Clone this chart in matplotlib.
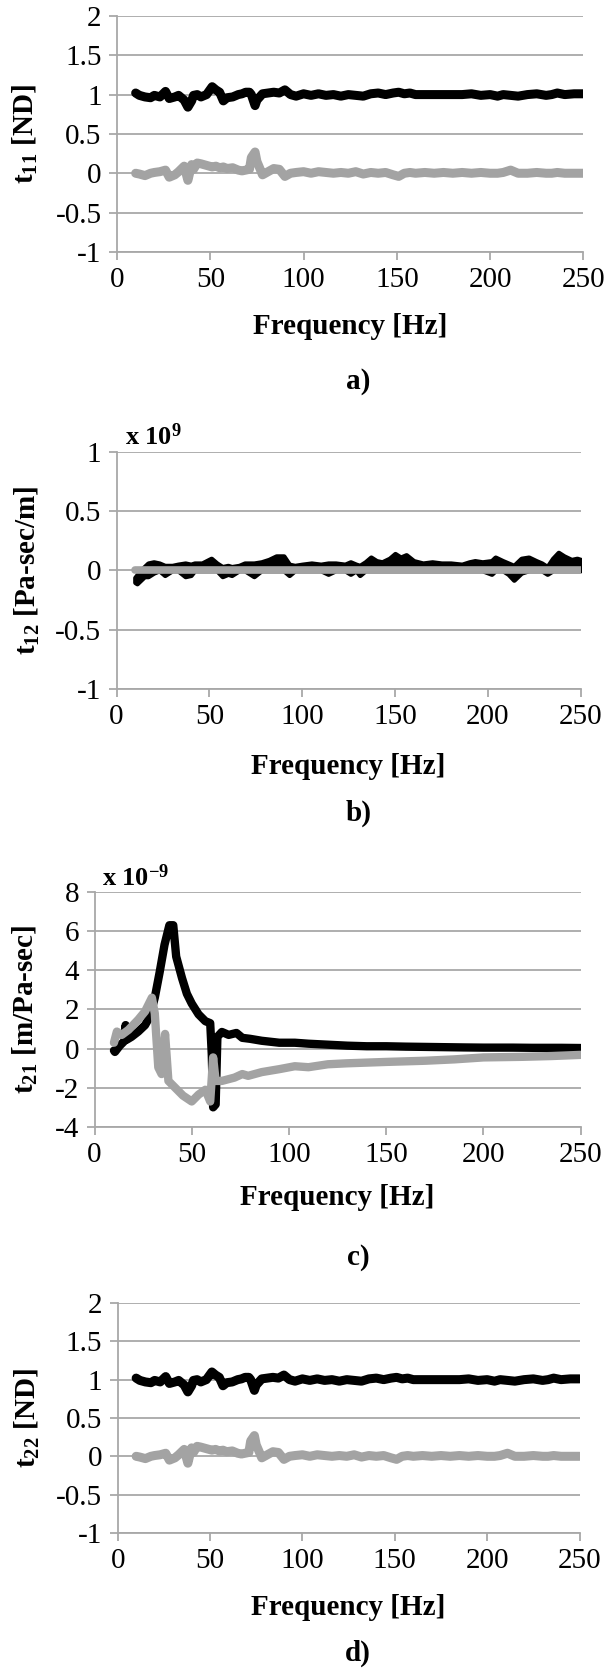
import matplotlib
matplotlib.use('Agg')
import matplotlib.pyplot as plt

plt.rcParams['font.family'] = ['Liberation Serif', 'DejaVu Serif']
plt.rcParams['mathtext.fontset'] = 'custom'
plt.rcParams['mathtext.rm'] = 'Liberation Serif'
plt.rcParams['mathtext.bf'] = 'Liberation Serif:bold'
plt.rcParams['mathtext.it'] = 'Liberation Serif:italic'
plt.rcParams['mathtext.default'] = 'bf'
plt.rcParams['axes.unicode_minus'] = False

# --- a) / d) t11, t22 : real (black) and imag (gray) ---
freq_a = [10, 12, 15, 18, 20, 23, 26, 28, 31, 33,
          36, 38, 40, 41, 43, 45, 48, 51, 53, 55,
          57, 59, 62, 65, 67, 69, 71, 72, 74, 75,
          78, 81, 84, 87, 90, 93, 96, 100, 104, 108,
          112, 116, 120, 124, 128, 132, 136, 140, 144, 148,
          151, 154, 157, 160, 165, 170, 175, 180, 185, 190,
          195, 200, 204, 207, 211, 215, 220, 225, 230, 233,
          236, 240, 245, 250]
t11_re = [1.02, 0.99, 0.97, 0.96, 0.99, 0.97, 1.04, 0.95, 0.97, 0.99,
          0.93, 0.84, 0.92, 0.99, 1.00, 0.97, 1.00, 1.10, 1.06, 1.03,
          0.92, 0.96, 0.97, 1.00, 1.01, 1.03, 1.03, 1.00, 0.86, 0.93,
          1.01, 1.02, 1.03, 1.02, 1.06, 1.00, 0.98, 1.01, 0.99, 1.01,
          0.99, 1.00, 0.98, 1.00, 0.99, 0.98, 1.01, 1.02, 1.00, 1.02,
          1.03, 1.01, 1.02, 1.00, 1.00, 1.00, 1.00, 1.00, 1.00, 1.01,
          0.99, 1.00, 0.98, 1.00, 0.99, 0.98, 1.00, 1.01, 0.99, 1.00,
          1.02, 1.00, 1.01, 1.01]
t11_im = [0.00, -0.01, -0.03, 0.00, 0.01, 0.02, 0.04, -0.05, -0.02, 0.02,
          0.09, -0.09, 0.11, 0.05, 0.13, 0.12, 0.10, 0.08, 0.09, 0.07,
          0.08, 0.06, 0.07, 0.04, 0.03, 0.04, 0.05, 0.20, 0.27, 0.15,
          -0.02, 0.02, 0.06, 0.05, -0.04, 0.00, 0.01, 0.02, 0.00, 0.02,
          0.01, 0.00, 0.01, 0.00, 0.02, -0.01, 0.01, 0.00, 0.01, -0.02,
          -0.04, 0.00, 0.01, 0.00, 0.01, 0.00, 0.01, 0.00, 0.01, 0.00,
          0.01, 0.00, 0.00, 0.01, 0.04, 0.00, 0.00, 0.01, 0.00, 0.00,
          0.01, 0.00, 0.00, 0.00]
t22_re = t11_re
t22_im = t11_im

# --- b) t12 (x 1e9): black band (upper / lower edge), gray at zero ---
freq_b = [10, 11, 13, 15, 17, 20, 23, 26, 30, 33,
          37, 40, 42, 46, 51, 54, 57, 60, 62, 66,
          69, 74, 78, 82, 86, 90, 93, 96, 100, 105,
          110, 114, 118, 123, 126, 129, 131, 134, 137, 140,
          143, 147, 150, 153, 156, 160, 165, 170, 175, 180,
          186, 190, 193, 197, 202, 204, 208, 211, 214, 218,
          222, 226, 229, 232, 235, 238, 241, 245, 248, 250]
t12_hi = [-0.06, -0.04, 0.0, 0.03, 0.06, 0.07, 0.06, 0.04, 0.04, 0.05,
          0.06, 0.05, 0.06, 0.06, 0.10, 0.06, 0.03, 0.04, 0.03, 0.04,
          0.06, 0.06, 0.07, 0.09, 0.12, 0.12, 0.05, 0.04, 0.05, 0.06,
          0.05, 0.06, 0.06, 0.05, 0.07, 0.05, 0.04, 0.07, 0.11, 0.08,
          0.07, 0.10, 0.14, 0.11, 0.13, 0.08, 0.06, 0.07, 0.06, 0.06,
          0.05, 0.07, 0.08, 0.07, 0.08, 0.11, 0.08, 0.06, 0.04, 0.10,
          0.11, 0.08, 0.06, 0.03, 0.10, 0.15, 0.12, 0.09, 0.10, 0.09]
t12_lo = [-0.10, -0.11, -0.08, -0.05, -0.05, -0.02, 0.0, -0.04, 0.0, 0.0,
          -0.05, -0.04, 0.0, 0.0, 0.0, 0.0, -0.05, -0.03, -0.04, 0.0,
          0.0, -0.05, 0.0, 0.0, 0.0, 0.0, -0.04, 0.0, 0.0, 0.0,
          0.0, -0.03, 0.0, 0.0, -0.03, 0.0, -0.04, 0.0, 0.0, 0.0,
          0.0, 0.0, 0.0, 0.0, 0.0, 0.0, 0.0, 0.0, 0.0, 0.0,
          0.0, 0.0, 0.0, 0.0, -0.03, 0.0, 0.0, -0.03, -0.08, -0.02,
          0.0, 0.0, 0.0, -0.03, 0.0, 0.0, 0.0, 0.0, 0.0, 0.0]
freq_b_im = [10, 250]
t12_im = [0.0, 0.0]

# --- c) t21 (x 1e-9) ---
freq_c_re = [10, 10.5, 13, 15.5, 16, 16.5, 19, 22.5, 26, 28.5,
             31, 33.5, 36, 38.5, 40.5, 42, 45, 47.5, 50, 53.5,
             57, 59.5, 60.3, 61, 62.3, 63.2, 65.5, 69, 73, 76,
             80, 86, 95, 103, 110, 120, 130, 140, 150, 160,
             175, 190, 200, 215, 225, 240, 250]
t21_re = [-0.1, -0.17, 0.15, 0.4, 1.2, 0.45, 0.6, 0.87, 1.2, 1.65,
          2.6, 3.9, 5.3, 6.3, 6.3, 4.7, 3.6, 2.8, 2.3, 1.75,
          1.4, 1.3, -0.3, -3.0, -2.85, 0.6, 0.85, 0.7, 0.8, 0.55,
          0.5, 0.4, 0.3, 0.3, 0.25, 0.2, 0.15, 0.12, 0.12, 0.1,
          0.08, 0.06, 0.05, 0.05, 0.04, 0.04, 0.03]
freq_c_im = [10, 11.5, 14, 17.5, 22.5, 26, 29.5, 31, 32.8, 34.5,
             36.3, 38, 41.5, 45.5, 50, 53.5, 57, 59.5, 61, 62.3,
             65.5, 72, 76, 79, 86, 95, 103, 110, 120, 130,
             150, 170, 185, 200, 220, 235, 250]
t21_im = [0.3, 0.87, 0.7, 0.96, 1.48, 1.9, 2.6, 1.8, -0.96, -1.3,
          0.75, -1.65, -2.0, -2.4, -2.7, -2.35, -2.1, -2.7, -0.45, -1.65,
          -1.65, -1.48, -1.3, -1.39, -1.2, -1.05, -0.9, -0.95, -0.8, -0.75,
          -0.68, -0.62, -0.55, -0.45, -0.42, -0.38, -0.32]

xticks = [0, 50, 100, 150, 200, 250]
nd_ticks = [-1, -0.5, 0, 0.5, 1, 1.5, 2]
nd_labels = ['-1', '-0.5', '0', '0.5', '1', '1.5', '2']
b_ticks = [-1, -0.5, 0, 0.5, 1]
b_labels = ['-1', '-0.5', '0', '0.5', '1']
c_ticks = [-4, -2, 0, 2, 4, 6, 8]
c_labels = ['-4', '-2', '0', '2', '4', '6', '8']

BLACK = '#000000'
GRAY = '#a3a3a3'
GRID = '#a8a8a8'
FS = 21
LW = 6.5


def style(ax, ticks, labels, ylabel, ylab_x, xlab_y):
    ax.set_xlim(0, 250)
    ax.set_ylim(ticks[0], ticks[-1])
    ax.set_xticks(xticks)
    ax.set_yticks(ticks)
    ax.set_yticklabels(labels)
    ax.grid(axis='y', color=GRID, lw=1.3)
    ax.set_axisbelow(True)
    for s in ['top', 'right']:
        ax.spines[s].set_visible(False)
    for s in ['left', 'bottom']:
        ax.spines[s].set_color(GRID)
        ax.spines[s].set_linewidth(1.3)
    ax.tick_params(direction='out', length=6, width=1.3, color=GRID,
                   labelsize=FS, pad=5)
    ax.set_xlabel('Frequency [Hz]', fontsize=FS, fontweight='bold')
    ax.xaxis.set_label_coords(0.5, xlab_y)
    ax.xaxis.label.set_va('center')
    ax.set_ylabel(ylabel, fontsize=FS, fontweight='bold')
    ax.yaxis.set_label_coords(ylab_x, 0.5)
    ax.yaxis.label.set_va('center')


fig = plt.figure(figsize=(6.05, 16.75), dpi=100)

ax = fig.add_axes([0.1934, 0.8496, 0.7709, 0.1409])
ax.plot(freq_a, t11_re, color=BLACK, lw=LW, solid_capstyle='round', solid_joinstyle='round')
ax.plot(freq_a, t11_im, color=GRAY, lw=LW, solid_capstyle='round', solid_joinstyle='round')
style(ax, nd_ticks, nd_labels, 't$_{11}$ [ND]', -0.197, -0.318)

ax = fig.add_axes([0.1926, 0.5887, 0.7672, 0.1415])
ax.fill_between(freq_b, t12_lo, t12_hi, color=BLACK, lw=3.5, edgecolor=BLACK)
ax.plot(freq_b_im, t12_im, color=GRAY, lw=5.5, solid_capstyle='round')
style(ax, b_ticks, b_labels, 't$_{12}$ [Pa-sec/m]', -0.193, -0.329)

ax = fig.add_axes([0.1562, 0.3272, 0.8036, 0.1403])
ax.plot(freq_c_re, t21_re, color=BLACK, lw=6, solid_capstyle='round', solid_joinstyle='round')
ax.plot(freq_c_im, t21_im, color=GRAY, lw=6, solid_capstyle='round', solid_joinstyle='round')
style(ax, c_ticks, c_labels, 't$_{21}$ [m/Pa-sec]', -0.143, -0.302)

ax = fig.add_axes([0.1945, 0.0848, 0.7634, 0.1373])
ax.plot(freq_a, t22_re, color=BLACK, lw=LW, solid_capstyle='round', solid_joinstyle='round')
ax.plot(freq_a, t22_im, color=GRAY, lw=LW, solid_capstyle='round', solid_joinstyle='round')
style(ax, nd_ticks, nd_labels, 't$_{22}$ [ND]', -0.196, -0.322)

fig.text(0.2066, 0.7391, 'x 10$^{9}$', fontsize=19, fontweight='bold', va='center')
fig.text(0.1686, 0.4758, 'x 10$^{-9}$', fontsize=19, fontweight='bold', va='center')

for lab, y in [('a)', 0.772), ('b)', 0.5146), ('c)', 0.249), ('d)', 0.0131)]:
    fig.text(0.592, y, lab, fontsize=FS, fontweight='bold', ha='center', va='center')

fig.savefig('out.png', dpi=100)
